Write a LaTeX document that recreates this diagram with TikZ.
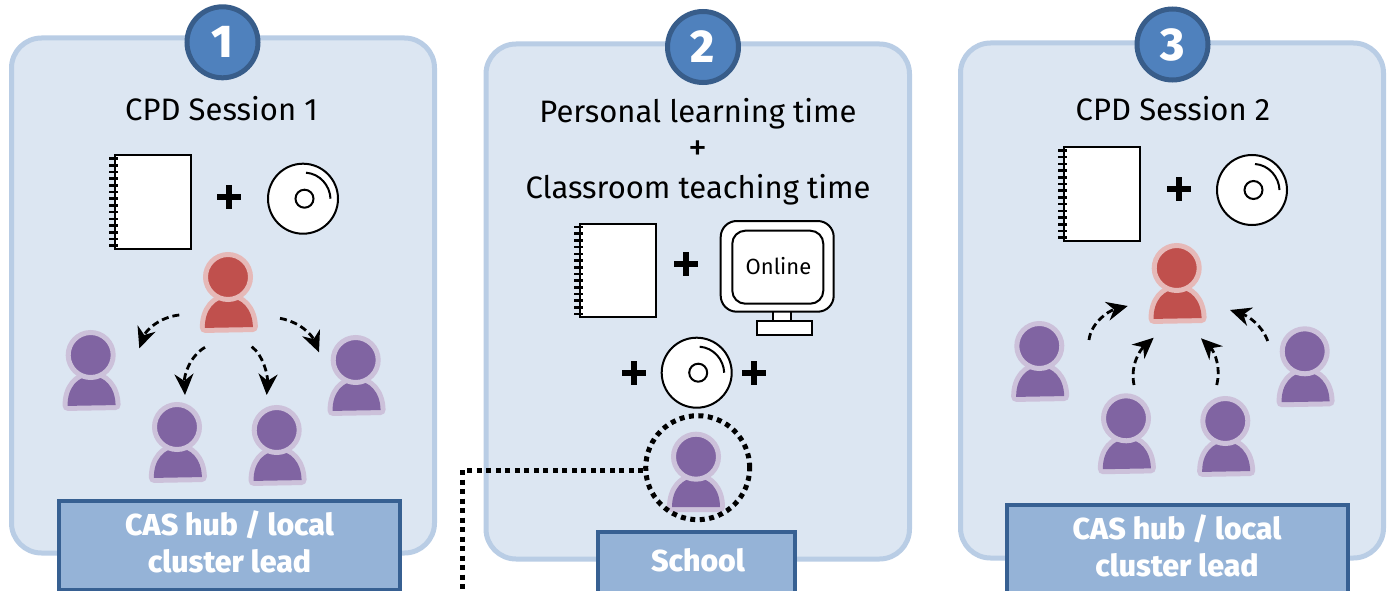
\documentclass[tikz,border=0pt]{standalone}
\usepackage{fontspec}
\setmainfont{Fira Sans}
\newfontfamily\heavyfont{Fira Sans}[UprightFont=* ExtraBold]
\usetikzlibrary{arrows.meta}
\definecolor{panelfill}{HTML}{DCE6F2}
\definecolor{panelline}{HTML}{B9CDE5}
\definecolor{boxfill}{HTML}{95B3D7}
\definecolor{boxline}{HTML}{376092}
\definecolor{badgefill}{HTML}{4F81BD}
\definecolor{badgeline}{HTML}{385D8A}
\definecolor{redfill}{HTML}{C0504D}
\definecolor{redhalo}{HTML}{E6B9B8}
\definecolor{purfill}{HTML}{8064A2}
\definecolor{purhalo}{HTML}{CCC1DA}
\tikzset{
  panel/.style={draw=panelline,fill=panelfill,line width=5pt,rounded corners=30pt},
  badge/.style={circle,draw=badgeline,fill=badgefill,line width=5pt,minimum size=71pt,inner sep=0pt,text=white,font=\heavyfont\fontsize{46}{46}\selectfont},
  lead/.style={draw=boxline,fill=boxfill,line width=4pt,inner sep=0pt},
  leadtext/.style={text=white,align=center,inner sep=0pt,font=\heavyfont\fontsize{30.3}{37}\selectfont},
  title/.style={inner sep=0pt,font=\fontsize{31}{34}\selectfont},
  paper/.style={draw=black,fill=white,line width=2pt},
  flow/.style={line width=2.8pt,dash pattern=on 7pt off 4pt,-{Stealth[length=21pt,width=19pt]}},
  pics/person/.style n args={2}{code={
    \path[draw=#2,fill=#2,line width=10pt,line join=round]
      (-24,50.5) .. controls (-24,32) and (-13,21) .. (0,21) .. controls (13,21) and (24,32) .. (24,50.5) -- cycle;
    \path[fill=#1] (-24,50.5) .. controls (-24,32) and (-13,21) .. (0,21) .. controls (13,21) and (24,32) .. (24,50.5) -- cycle;
    \path[draw=#2,fill=#1,line width=5pt] (0,0) circle[radius=22.5];
  }},
  pics/notebook/.style={code={
    \path[paper] (0,0) rectangle (76,93.5);
    \foreach \k in {0,...,13} {\draw[line width=2.6pt] (-6,{3.5+\k*6.7}) -- (3,{3.5+\k*6.7});}
  }},
  pics/disc/.style={code={
    \path[paper] (0,0) circle[radius=35];
    \path[paper] (1.5,0) circle[radius=9];
    \draw[line width=2pt] (3,-26) .. controls (17,-25) and (27,-13) .. (27.5,0);
  }},
  pics/plusmark/.style={code={
    \fill[black] (-12,-3.2) rectangle (12,3.2);
    \fill[black] (-3.2,-12) rectangle (3.2,12);
  }}
}
\begin{document}
\begin{tikzpicture}[x=1pt,y=-1pt]
\clip (0,0) rectangle (1392,591);
% panels
\path[panel] (11.5,38) rectangle (434.5,553);
\path[panel] (486,44) rectangle (909.5,559);
\path[panel] (960.5,43) rectangle (1383.5,558);
% badges
\node[badge] (b1) at (222.5,42.3) {1};
\node[badge] (b2) at (703,47) {2};
\node[badge] (b3) at (1172.5,44.5) {3};
% titles
\node[title] (t1) at (221.5,109) {CPD Session 1};
\node[title] (t2a) at (698,114) {Personal learning time};
\node[inner sep=0pt,font=\fontsize{38}{38}\selectfont] (t2b) at (698,151) {+};
\node[title] (t2c) at (698,189.5) {Classroom teaching time};
\node[title] (t3) at (1173,109) {CPD Session 2};
% materials
\pic at (115,155) {notebook};
\pic at (580,223.5) {notebook};
\pic at (1064,147) {notebook};
\pic at (303,198.7) {disc};
\pic at (696.7,372.7) {disc};
\pic at (1252,190) {disc};
\pic at (228.7,197) {plusmark};
\pic at (686,264) {plusmark};
\pic at (633.7,373) {plusmark};
\pic at (754,373) {plusmark};
\pic at (1179,189) {plusmark};
% monitor
\path[paper] (772.7,311) rectangle (790.7,322);
\path[paper] (757,321) rectangle (812.3,335);
\path[paper,rounded corners=16pt] (720.7,221) rectangle (833.7,311.7);
\path[paper,rounded corners=13pt] (732.3,230.7) rectangle (823.3,303.7);
\node[inner sep=0pt,font=\fontsize{22}{26}\selectfont] (online) at (778.5,266) {Online};
% people
\pic[rotate=1] at (228,277) {person={redfill}{redhalo}};
\pic[rotate=1] at (90.7,355) {person={purfill}{purhalo}};
\pic[rotate=1] at (177,427) {person={purfill}{purhalo}};
\pic[rotate=1] at (276.7,430) {person={purfill}{purhalo}};
\pic[rotate=1] at (355.7,360) {person={purfill}{purhalo}};
\pic at (696,456.7) {person={purfill}{purhalo}};
\pic[rotate=1] at (1176.7,268) {person={redfill}{redhalo}};
\pic[rotate=1] at (1039.3,346) {person={purfill}{purhalo}};
\pic[rotate=1] at (1126,418.3) {person={purfill}{purhalo}};
\pic[rotate=1] at (1225.3,421) {person={purfill}{purhalo}};
\pic[rotate=1] at (1304.7,351.3) {person={purfill}{purhalo}};
% arrows panel 1
\coordinate (a1s) at (179.3,315); \coordinate (a1e) at (139.3,348.3);
\coordinate (a2s) at (205,347.3); \coordinate (a2e) at (185,395);
\coordinate (a3s) at (251.7,346.7); \coordinate (a3e) at (266.7,395);
\coordinate (a4s) at (280,318.3); \coordinate (a4e) at (319,352.3);
\draw[flow] (a1s) .. controls (160,317) and (146,330) .. (a1e);
\draw[flow] (a2s) .. controls (190,356) and (184,375) .. (a2e);
\draw[flow] (a3s) .. controls (263,355) and (268,375) .. (a3e);
\draw[flow] (a4s) .. controls (300,322) and (312,335) .. (a4e);
% arrows panel 3
\coordinate (c1s) at (1089,340); \coordinate (c1e) at (1127.7,306);
\coordinate (c2s) at (1134,385); \coordinate (c2e) at (1153.7,337.7);
\coordinate (c3s) at (1216.7,385); \coordinate (c3e) at (1201,338.3);
\coordinate (c4s) at (1267.7,341); \coordinate (c4e) at (1230,310);
\draw[flow] (c1s) .. controls (1091,323) and (1108,311) .. (c1e);
\draw[flow] (c2s) .. controls (1130,365) and (1140,350) .. (c2e);
\draw[flow] (c3s) .. controls (1221,368) and (1215,352) .. (c3e);
\draw[flow] (c4s) .. controls (1262,325) and (1248,316) .. (c4e);
% dotted ring and link
\node[circle,draw=black,line width=5pt,dash pattern=on 5pt off 4.5pt,minimum size=104pt,inner sep=0pt] (ring) at (697.7,467.7) {};
\coordinate (linkturn) at (462.7,470);
\coordinate (linkend) at (462.7,595);
\draw[line width=5pt,dash pattern=on 5pt off 4.5pt] (ring.west |- linkturn) -- (linkturn) -- (linkend);
% lead boxes
\node[lead,minimum width=341pt,minimum height=89pt] (l1) at (229.5,545) {};
\node[lead,minimum width=341pt,minimum height=89pt] (l3) at (1177,549) {};
\node[lead,minimum width=197pt,minimum height=70pt] (l2) at (696.3,567) {};
\node[leadtext] (lt1) at (229.5,542) {CAS hub / local\\cluster lead};
\node[leadtext] (lt3) at (1177,546) {CAS hub / local\\cluster lead};
\node[leadtext] (lt2) at (698,560) {School};
\end{tikzpicture}
\end{document}
